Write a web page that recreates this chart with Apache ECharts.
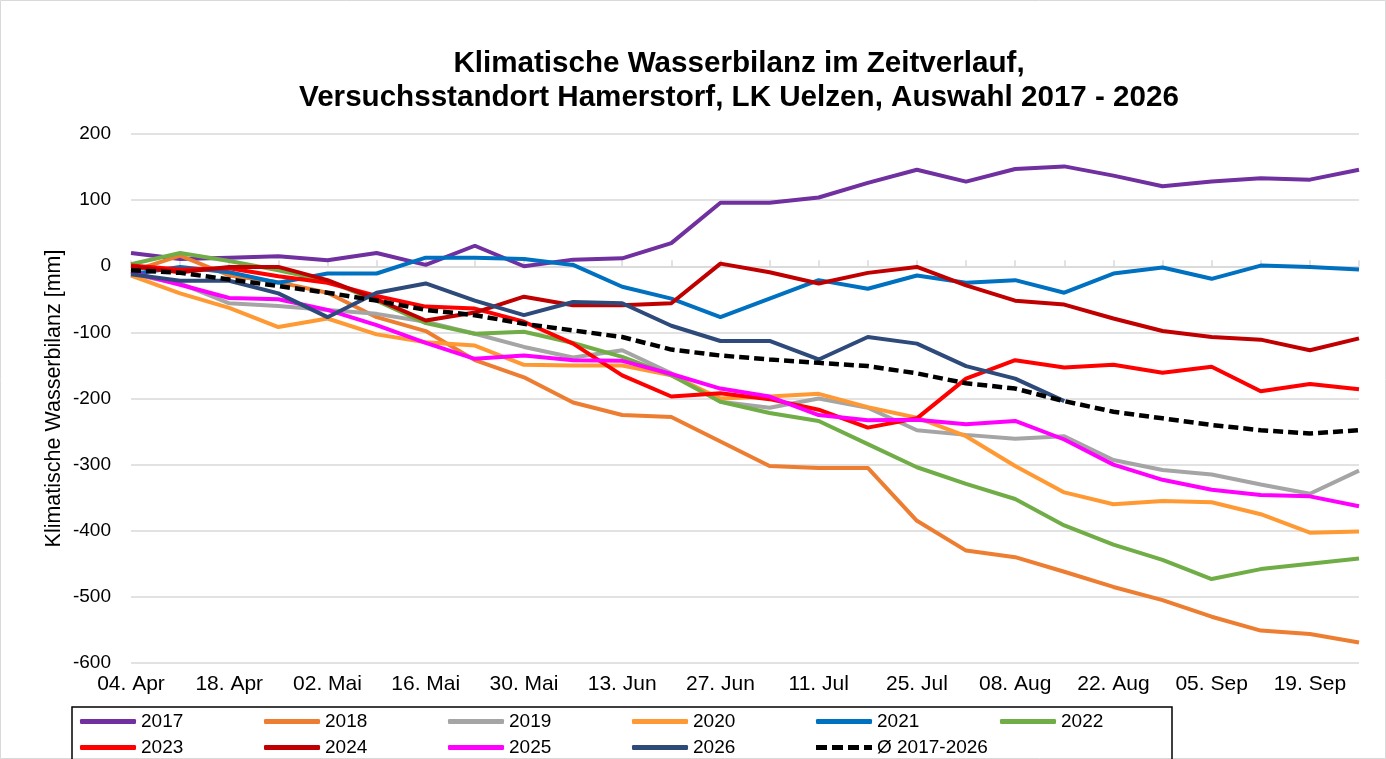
<!DOCTYPE html>
<html>
<head>
<meta charset="utf-8">
<script src="https://cdn.jsdelivr.net/npm/echarts@6/dist/echarts.min.js"></script>
<style>
html,body{margin:0;padding:0;background:#fff;}
#chart{width:1386px;height:759px;}
</style>
</head>
<body>
<div id="chart"></div>
<script>
const categories = ['04. Apr','11. Apr','18. Apr','25. Apr','02. Mai','09. Mai','16. Mai','23. Mai','30. Mai','06. Jun','13. Jun','20. Jun','27. Jun','04. Jul','11. Jul','18. Jul','25. Jul','01. Aug','08. Aug','15. Aug','22. Aug','29. Aug','05. Sep','12. Sep','19. Sep','26. Sep'];

const y2017 = [20, 11, 13, 15, 9, 20, 2, 31, 0, 10, 12, 35, 96, 96, 104, 126, 146, 128, 147, 151, 137, 121, 128, 133, 131, 146];
const y2018 = [-8, 16, -14, -24, -40, -77, -98, -142, -168, -206, -225, -228, -265, -302, -305, -305, -385, -430, -440, -462, -485, -505, -530, -551, -556, -569];
const y2019 = [-12, -26, -56, -60, -66, -72, -84, -102, -122, -138, -127, -162, -205, -214, -200, -214, -248, -255, -261, -257, -293, -308, -315, -330, -344, -309];
const y2020 = [-14, -41, -63, -92, -79, -103, -115, -120, -149, -150, -150, -165, -200, -197, -193, -213, -229, -257, -302, -342, -360, -355, -357, -375, -403, -401];
const y2021 = [-12, -1, -9, -25, -11, -11, 13, 13, 11, 2, -31, -49, -77, -49, -21, -34, -14, -25, -21, -40, -11, -2, -19, 1, -1, -5];
const y2022 = [3, 20, 8, -6, -22, -52, -86, -102, -99, -116, -137, -165, -205, -222, -234, -269, -304, -329, -352, -392, -421, -444, -473, -458, -450, -442];
const y2023 = [1, -5, -3, -15, -25, -45, -61, -64, -84, -117, -165, -197, -192, -201, -217, -244, -230, -170, -142, -153, -149, -161, -152, -189, -178, -186];
const y2024 = [0, -9, -1, -1, -21, -50, -82, -70, -46, -59, -59, -56, 4, -9, -26, -10, -1, -29, -52, -58, -79, -98, -107, -111, -127, -109];
const y2025 = [-9, -28, -48, -50, -66, -89, -116, -140, -135, -142, -143, -163, -185, -197, -225, -233, -232, -239, -234, -262, -300, -323, -338, -346, -348, -363];
const y2026 = [-12, -22, -22, -41, -77, -40, -26, -52, -74, -54, -56, -90, -113, -113, -141, -107, -117, -151, -170, -204, null, null, null, null, null, null];
const yAvg  = [-6, -10, -20, -30, -40, -52, -66, -74, -87, -97, -107, -126, -135, -141, -146, -151, -162, -177, -185, -204, -220, -230, -240, -248, -253, -248];

const seriesNames = ['2017','2018','2019','2020','2021','2022','2023','2024','2025','2026','Ø 2017-2026'];
const seriesData = [y2017, y2018, y2019, y2020, y2021, y2022, y2023, y2024, y2025, y2026, yAvg];
const seriesColors = ['#7030A0','#ED7D31','#A5A5A5','#FF9933','#0070C0','#70AD47','#FF0000','#C00000','#FF00FF','#2E4A7A','#000000'];

const yTicks = {min: -600, max: 200, interval: 100};

const legendCols = [80, 264, 448, 632, 816, 1000];
const legendRows = [712, 738];

const font = "'Liberation Sans', Arial, sans-serif";

const chart = echarts.init(document.getElementById('chart'));

const series = seriesNames.map((n, k) => ({
  name: n,
  type: 'line',
  data: seriesData[k],
  xAxisIndex: 0,
  symbol: 'none',
  smooth: false,
  connectNulls: false,
  color: seriesColors[k],
  lineStyle: {
    width: k === 10 ? 4.5 : 4,
    color: seriesColors[k],
    type: k === 10 ? [10, 5] : 'solid',
    cap: 'butt'
  },
  emphasis: {disabled: true},
  animation: false
}));

const dashIcon = 'path://M0,0h11v5h-11z M16,0h11v5h-11z M32,0h11v5h-11z M48,0h8v5h-8z';

const legends = seriesNames.map((n, k) => ({
  data: [{name: n, icon: k === 10 ? dashIcon : 'roundRect'}],
  left: legendCols[k % 6],
  top: legendRows[Math.floor(k / 6)],
  itemWidth: 56,
  itemHeight: 5,
  itemGap: 5,
  padding: 0,
  selectedMode: false,
  textStyle: {fontFamily: font, fontSize: 19, color: '#000'}
}));

chart.setOption({
  backgroundColor: '#fff',
  animation: false,
  title: {
    text: 'Klimatische Wasserbilanz im Zeitverlauf,\nVersuchsstandort Hamerstorf, LK Uelzen, Auswahl 2017 - 2026',
    left: 734,
    top: 42,
    textAlign: 'center',
    textStyle: {fontFamily: font, fontSize: 29.6, fontWeight: 'bold', color: '#000', lineHeight: 34}
  },
  legend: legends,
  grid: {left: 131, right: 27, top: 134, bottom: 96, containLabel: false},
  xAxis: [
    {
      type: 'category',
      data: categories,
      boundaryGap: false,
      position: 'bottom',
      axisLine: {show: false, onZero: false},
      axisTick: {show: false},
      axisLabel: {interval: 1, margin: 11, fontFamily: font, fontSize: 21, color: '#000'},
      splitLine: {show: false}
    },
    {
      type: 'category',
      data: categories,
      boundaryGap: false,
      position: 'bottom',
      axisLine: {show: true, onZero: true, lineStyle: {color: '#d9d9d9', width: 1.5}},
      axisTick: {show: true, inside: true, length: 6, interval: 0, lineStyle: {color: '#d9d9d9', width: 1.5}},
      axisLabel: {show: false},
      splitLine: {show: false}
    }
  ],
  yAxis: {
    type: 'value',
    min: yTicks.min,
    max: yTicks.max,
    interval: yTicks.interval,
    axisLine: {show: false},
    axisTick: {show: false},
    axisLabel: {margin: 20, fontFamily: font, fontSize: 19, color: '#000'},
    splitLine: {lineStyle: {color: '#d9d9d9', width: 1.5}},
    name: 'Klimatische Wasserbilanz [mm]',
    nameLocation: 'middle',
    nameRotate: 90,
    nameGap: 66,
    nameMoveOverlap: false,
    nameTextStyle: {fontFamily: font, fontSize: 21.5, color: '#000'}
  },
  graphic: [
    {type: 'rect', shape: {x: 0.5, y: 0.5, width: 1385, height: 758}, style: {fill: 'none', stroke: '#d9d9d9', lineWidth: 1}, silent: true, z: 100},
    {type: 'rect', shape: {x: 72, y: 707, width: 1100, height: 70}, style: {fill: 'none', stroke: '#000', lineWidth: 1.5}, silent: true, z: 100}
  ],
  series: series
});
</script>
</body>
</html>
